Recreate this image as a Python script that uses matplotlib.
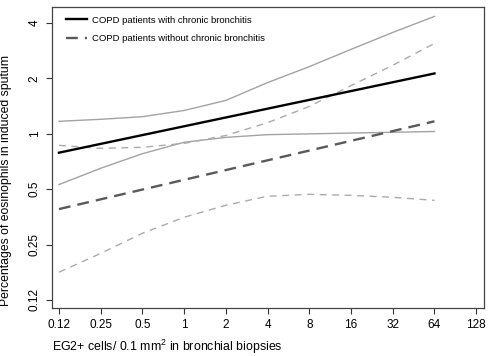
import numpy as np
import matplotlib
matplotlib.use("Agg")
import matplotlib.pyplot as plt

plt.rcParams["font.family"] = ["Liberation Sans", "DejaVu Sans"]
plt.rcParams["mathtext.fontset"] = "custom"
plt.rcParams["mathtext.rm"] = "Liberation Sans"

# =====================================================
# DATA
# =====================================================

# EG2+ cells per 0.1 mm2 (log2 grid)
eg2 = [0.125, 0.25, 0.5, 1, 2, 4, 8, 16, 32, 64]

# fitted lines (endpoints)
fit_x = [0.125, 64]
fit_cb = [0.79, 2.13]
fit_nocb = [0.39, 1.17]

# 95% CI, with chronic bronchitis
cb_upper = [1.17, 1.20, 1.24, 1.34, 1.52, 1.90, 2.32, 2.88, 3.56, 4.35]
cb_lower = [0.53, 0.65, 0.78, 0.90, 0.957, 0.99, 1.00, 1.01, 1.02, 1.03]

# 95% CI, without chronic bronchitis
nocb_upper = [0.866, 0.834, 0.845, 0.888, 0.98, 1.15, 1.41, 1.83, 2.36, 3.10]
nocb_lower = [0.177, 0.224, 0.288, 0.352, 0.409, 0.458, 0.469, 0.463, 0.452, 0.435]

x_ticks = [0.125, 0.25, 0.5, 1, 2, 4, 8, 16, 32, 64, 128]
x_labels = ["0.12", "0.25", "0.5", "1", "2", "4", "8", "16", "32", "64", "128"]
y_ticks = [0.125, 0.25, 0.5, 1, 2, 4]
y_labels = ["0.12", "0.25", "0.5", "1", "2", "4"]

# =====================================================
# PLOT
# =====================================================

fig = plt.figure(figsize=(4.9, 3.56), dpi=100)
ax = fig.add_axes([0.106, 0.135, 0.882, 0.845])

ax.plot(eg2, cb_upper, color="#a3a3a3", lw=1.0)
ax.plot(eg2, cb_lower, color="#a3a3a3", lw=1.0)
ax.plot(eg2, nocb_upper, color="#ababab", lw=1.0, ls=(0, (5, 4)))
ax.plot(eg2, nocb_lower, color="#ababab", lw=1.0, ls=(0, (5, 4)))

ax.plot(fit_x, fit_cb, color="black", lw=1.7,
        label="COPD patients with chronic bronchitis")
ax.plot(fit_x, fit_nocb, color="#5a5a5a", lw=1.7, ls=(0, (5, 3)),
        label="COPD patients without chronic bronchitis")

ax.set_xscale("log", base=2)
ax.set_yscale("log", base=2)
ax.set_xlim(2 ** -3.168, 2 ** 7.19)
ax.set_ylim(2 ** -3.144, 2 ** 2.289)

ax.set_xticks(x_ticks)
ax.set_xticklabels(x_labels)
ax.set_yticks(y_ticks)
ax.set_yticklabels(y_labels, rotation=90, va="center")
ax.minorticks_off()
ax.tick_params(axis="both", labelsize=8.5, length=4, width=0.8,
               color="#333333", pad=4)

for sp in ax.spines.values():
    sp.set_color("#444444")
    sp.set_linewidth(0.9)

ax.set_xlabel("EG2+ cells/ 0.1 mm$^2$ in bronchial biopsies",
              fontsize=8.9, loc="left", va="center")
ax.xaxis.set_label_coords(0.0, -0.128)
ax.set_ylabel("Percentages of eosinophils in induced sputum", fontsize=8.8)
ax.yaxis.set_label_coords(-0.093, 0.425)

ax.legend(loc="upper left", frameon=False, fontsize=6.8,
          handlelength=2.3, handletextpad=0.5, labelspacing=1.0,
          borderpad=0, borderaxespad=0,
          bbox_to_anchor=(0.032, 0.972))

fig.savefig("out.png", dpi=100)
